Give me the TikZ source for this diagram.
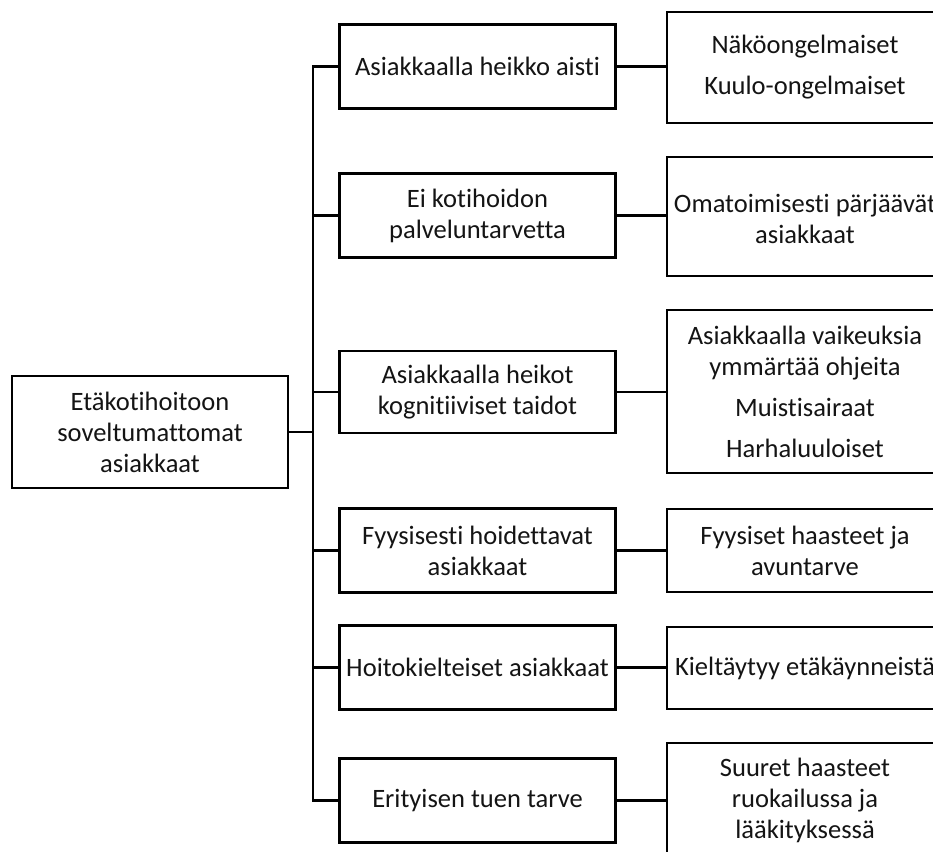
\documentclass[tikz,border=0pt]{standalone}
\usepackage{fontspec}
\setmainfont{Carlito}[Ligatures=NoCommon]
\begin{document}
\begin{tikzpicture}[x=0.75pt,y=-0.75pt,
  box/.style={draw=black,line width=2.2pt,fill=white,inner sep=0pt,
    minimum width=206.5pt},
  txt/.style={align=center,text=black!92,inner sep=0pt,
    font=\fontsize{19.9pt}{23.3pt}\selectfont},
  link/.style={draw=black,line width=2pt}]
\useasboundingbox (0,0) rectangle (933,852);
\clip (0,0) rectangle (933,852);

% root
\node[box,minimum width=207pt,minimum height=84pt] (root) at (150,432) {};
\node[txt] at (root) {Etäkotihoitoon\\soveltumattomat\\asiakkaat};

% middle column
\node[box,minimum height=63pt]   (m1) at (477.5,66.5)  {};
\node[box,minimum height=62.5pt] (m2) at (477.5,215.5) {};
\node[box,minimum height=61.5pt] (m3) at (477.5,392)   {};
\node[box,minimum height=62.5pt] (m4) at (477.5,550.5) {};
\node[box,minimum height=62.5pt] (m5) at (477.5,667.5) {};
\node[box,minimum height=62.5pt] (m6) at (477.5,800.5) {};
\node[txt] at (m1) {Asiakkaalla heikko aisti};
\node[txt] at (m2) {Ei kotihoidon\\palveluntarvetta};
\node[txt] at (m3) {Asiakkaalla heikot\\kognitiiviset taidot};
\node[txt] at (m4) {Fyysisesti hoidettavat\\asiakkaat};
\node[txt] at (m5) {Hoitokielteiset asiakkaat};
\node[txt] at (m6) {Erityisen tuen tarve};

% right column (runs past the right edge)
\node[box,minimum width=207pt,minimum height=83.25pt]  (r1) at (805,67.5)  {};
\node[box,minimum width=207pt,minimum height=89.25pt]  (r2) at (805,216.5) {};
\node[box,minimum width=207pt,minimum height=122.25pt] (r3) at (805,391.5) {};
\node[box,minimum width=207pt,minimum height=62.25pt]  (r4) at (805,550.5) {};
\node[box,minimum width=207pt,minimum height=61.5pt]   (r5) at (805,668)   {};
\node[box,minimum width=207pt,minimum height=85.5pt]   (r6) at (805,800)   {};
\node[txt] at (r1) {Näköongelmaiset\\[7.5pt]Kuulo-ongelmaiset};
\node[txt] at ([yshift=-2pt]r2.center) {Omatoimisesti pärjäävät\\asiakkaat};
\node[txt] at (r3) {Asiakkaalla vaikeuksia\\ymmärtää ohjeita\\[7.5pt]Muistisairaat\\[7.5pt]Harhaluuloiset};
\node[txt] at (r4) {Fyysiset haasteet ja\\avuntarve};
\node[txt] at (r5) {Kieltäytyy etäkäynneistä};
\node[txt] at (r6) {Suuret haasteet\\ruokailussa ja\\lääkityksessä};

% trunk and branches
\coordinate (tx) at (313,0);
\draw[link] (m1.west) -- (m1.west -| tx) -- (m6.west -| tx) -- (m6.west);
\draw[link] (root.east) -- (root.east -| tx);
\foreach \i in {2,3,4,5} \draw[link] (m\i.west) -- (m\i.west -| tx);
\foreach \i in {1,...,6} \draw[link] (m\i.east) -- (m\i.east -| r\i.west);
\end{tikzpicture}
\end{document}
